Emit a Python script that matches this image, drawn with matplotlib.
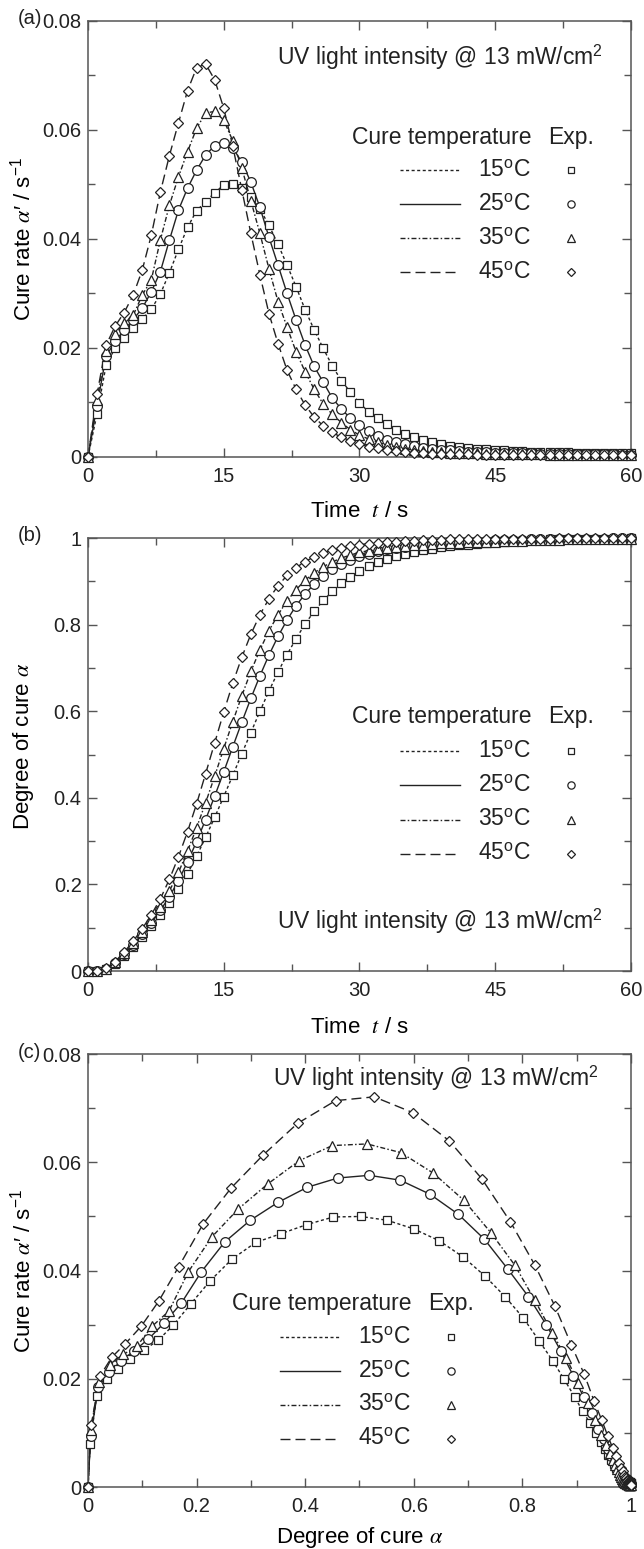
import matplotlib
matplotlib.use("Agg")
import matplotlib.pyplot as plt

plt.rcParams['font.family'] = ['Liberation Sans', 'DejaVu Sans']
plt.rcParams['mathtext.fontset'] = 'custom'
plt.rcParams['mathtext.rm'] = 'Liberation Sans'
plt.rcParams['mathtext.it'] = 'STIXGeneral:italic'
plt.rcParams['mathtext.bf'] = 'Liberation Sans:bold'
plt.rcParams['lines.scale_dashes'] = False

# ---- data (t = 0 ... 60 s, 1 s step) ----
time_s = [0, 1, 2, 3, 4, 5, 6, 7, 8, 9, 10,
          11, 12, 13, 14, 15, 16, 17, 18, 19, 20,
          21, 22, 23, 24, 25, 26, 27, 28, 29, 30,
          31, 32, 33, 34, 35, 36, 37, 38, 39, 40,
          41, 42, 43, 44, 45, 46, 47, 48, 49, 50,
          51, 52, 53, 54, 55, 56, 57, 58, 59, 60]

temps = ["15", "25", "35", "45"]

# (a) cure rate vs time
rate_15 = [0, .0079, .0168, .0200, .0218, .0236, .0253, .0271, .0299, .0338, .0381,
           .0421, .0452, .0468, .0485, .0499, .0500, .0493, .0477, .0455, .0425,
           .0390, .0352, .0312, .0270, .0233, .0199, .0167, .0140, .0119, .0099,
           .0083, .0071, .0060, .0050, .0043, .0036, .0031, .0027, .0024, .0021,
           .0019, .0017, .0015, .0014, .0013, .0012, .0011, .0011, .0010, .0010,
           .0009, .0009, .0009, .0008, .0008, .0008, .0008, .0007, .0007, .0007]
rate_25 = [0, .0094, .0185, .0212, .0233, .0252, .0273, .0303, .0340, .0398, .0453,
           .0493, .0526, .0554, .0571, .0576, .0567, .0541, .0504, .0458, .0403,
           .0352, .0300, .0251, .0205, .0166, .0137, .0108, .0088, .0071, .0058,
           .0048, .0039, .0032, .0027, .0023, .0020, .0017, .0015, .0013, .0012,
           .0011, .0010, .0009, .0009, .0008, .0008, .0007, .0007, .0007, .0006,
           .0006, .0006, .0006, .0005, .0005, .0005, .0005, .0005, .0004, .0004]
rate_35 = [0, .0105, .0195, .0225, .0245, .0260, .0297, .0325, .0398, .0462, .0514,
           .0560, .0603, .0631, .0634, .0618, .0580, .0530, .0470, .0410, .0345,
           .0285, .0238, .0193, .0156, .0124, .0097, .0078, .0063, .0050, .0040,
           .0033, .0027, .0022, .0018, .0015, .0013, .0011, .0010, .0009, .0008,
           .0008, .0007, .0007, .0006, .0006, .0006, .0005, .0005, .0005, .0005,
           .0004, .0004, .0004, .0004, .0004, .0004, .0004, .0004, .0004, .0004]
rate_45 = [0, .0115, .0205, .0240, .0265, .0297, .0343, .0407, .0486, .0553, .0613,
           .0672, .0714, .0721, .0692, .0640, .0570, .0490, .0410, .0334, .0263,
           .0208, .0159, .0124, .0095, .0073, .0057, .0045, .0036, .0030, .0023,
           .0019, .0016, .0013, .0011, .0009, .0008, .0007, .0006, .0006, .0005,
           .0005, .0005, .0004, .0004, .0004, .0004, .0004, .0003, .0003, .0003,
           .0003, .0003, .0003, .0003, .0003, .0003, .0003, .0003, .0003, .0003]

# (b) degree of cure vs time
alpha_b_15 = [0, .001, .004, .016, .035, .056, .078, .103, .129, .157, .189,
              .225, .265, .309, .355, .403, .452, .502, .551, .600, .647,
              .691, .731, .768, .802, .831, .856, .877, .896, .911, .924,
              .935, .944, .952, .958, .964, .968, .972, .976, .979, .981,
              .983, .985, .987, .989, .990, .992, .993, .994, .995, .996,
              .997, .997, .998, .998, .998, .999, .999, .999, .999, 1.0]
alpha_b_25 = [0, .001, .005, .019, .039, .061, .085, .111, .140, .172, .209,
              .252, .299, .350, .404, .460, .518, .575, .630, .682, .730,
              .773, .811, .844, .871, .894, .913, .928, .940, .950, .958,
              .964, .970, .974, .978, .980, .983, .985, .987, .989, .990,
              .991, .992, .993, .994, .995, .995, .996, .996, .997, .997,
              .998, .998, .998, .999, .999, .999, .999, 1.0, 1.0, 1.0]
alpha_b_35 = [0, .001, .005, .020, .041, .065, .090, .118, .149, .185, .228,
              .277, .331, .389, .450, .514, .576, .636, .692, .742, .786,
              .823, .855, .881, .903, .920, .934, .945, .954, .961, .967,
              .971, .975, .978, .980, .982, .984, .985, .986, .988, .988,
              .989, .990, .991, .992, .992, .993, .994, .994, .995, .995,
              .996, .996, .997, .997, .998, .998, .998, .999, .999, .999]
alpha_b_45 = [0, .001, .006, .022, .044, .069, .098, .130, .167, .212, .264,
              .322, .386, .456, .527, .598, .665, .725, .778, .823, .860,
              .890, .914, .932, .946, .957, .966, .972, .977, .981, .985,
              .987, .989, .991, .992, .993, .994, .995, .996, .996, .997,
              .997, .998, .998, .998, .998, .999, .999, .999, .999, .999,
              .999, 1.0, 1.0, 1.0, 1.0, 1.0, 1.0, 1.0, 1.0, 1.0]

# (c) degree of cure paired with the cure rate of panel (a)
alpha_c_15 = [0, .004, .016, .035, .056, .078, .103, .129, .157, .189, .225,
              .265, .309, .355, .403, .452, .502, .551, .600, .647, .691,
              .731, .768, .802, .831, .856, .877, .896, .911, .924, .935,
              .944, .952, .958, .964, .968, .972, .976, .979, .981, .983,
              .985, .987, .989, .990, .992, .993, .994, .995, .996, .997,
              .997, .998, .998, .998, .999, .999, .999, .999, 1.0, 1.0]
alpha_c_25 = [0, .005, .019, .039, .061, .085, .111, .140, .172, .209, .252,
              .299, .350, .404, .460, .518, .575, .630, .682, .730, .773,
              .811, .844, .871, .894, .913, .928, .940, .950, .958, .964,
              .970, .974, .978, .980, .983, .985, .987, .989, .990, .991,
              .992, .993, .994, .995, .995, .996, .996, .997, .997, .998,
              .998, .998, .999, .999, .999, .999, 1.0, 1.0, 1.0, 1.0]
alpha_c_35 = [0, .005, .020, .041, .065, .090, .118, .149, .185, .228, .277,
              .331, .389, .450, .514, .576, .636, .692, .742, .786, .823,
              .855, .881, .903, .920, .934, .945, .954, .961, .967, .971,
              .975, .978, .980, .982, .984, .985, .986, .988, .988, .989,
              .990, .991, .992, .992, .993, .994, .994, .995, .995, .996,
              .996, .997, .997, .998, .998, .998, .999, .999, .999, 1.0]
alpha_c_45 = [0, .006, .022, .044, .069, .098, .130, .167, .212, .264, .322,
              .386, .456, .527, .598, .665, .725, .778, .823, .860, .890,
              .914, .932, .946, .957, .966, .972, .977, .981, .985, .987,
              .989, .991, .992, .993, .994, .995, .996, .996, .997, .997,
              .998, .998, .998, .998, .999, .999, .999, .999, .999, .999,
              1.0, 1.0, 1.0, 1.0, 1.0, 1.0, 1.0, 1.0, 1.0, 1.0]

rates = [rate_15, rate_25, rate_35, rate_45]
alphas_b = [alpha_b_15, alpha_b_25, alpha_b_35, alpha_b_45]
alphas_c = [alpha_c_15, alpha_c_25, alpha_c_35, alpha_c_45]

# ---- styles ----
INK = "#222222"
EDGE = "#555555"
line_styles = [(0, (2.2, 1.8)), "-", (0, (3.6, 1.6, 1.1, 1.6)), (0, (7.2, 3.6))]
markers = ["s", "o", "^", "D"]
msizes = [6.0, 7.0, 7.0, 5.5]

TICK_FS = 14.5
TEXT_FS = 16.5
LABEL_FS = 16


def style_axes(ax):
    for sp in ax.spines.values():
        sp.set_color(EDGE)
        sp.set_linewidth(1.1)
    ax.tick_params(which="both", direction="in", top=True, right=True,
                   color=EDGE, width=1.0, labelcolor=INK, labelsize=TICK_FS)
    ax.tick_params(which="major", length=6.5)
    ax.tick_params(which="minor", length=5)
    ax.tick_params(axis="x", which="both", pad=7)
    ax.tick_params(axis="y", which="both", pad=4.5)


def draw_series(ax, xs, ys):
    for x, y, ls, mk, ms in zip(xs, ys, line_styles, markers, msizes):
        ax.plot(x, y, ls=ls, color=INK, lw=1.0, zorder=2)
        ax.plot(x, y, ls="none", marker=mk, ms=ms, mfc="white", mec=INK,
                mew=0.9, zorder=3, clip_on=False)


def draw_key(ax, x0, y_head, y_first, dy):
    ax.text(x0, y_head, "Cure temperature", transform=ax.transAxes,
            fontsize=TEXT_FS, va="center", ha="left", color=INK)
    ax.text(x0 + 0.361, y_head, "Exp.", transform=ax.transAxes,
            fontsize=TEXT_FS, va="center", ha="left", color=INK)
    for i, (tc, ls, mk, ms) in enumerate(zip(temps, line_styles, markers, msizes)):
        y = y_first - dy * i
        ax.plot([x0 + 0.089, x0 + 0.199], [y, y], transform=ax.transAxes,
                ls=ls, color=INK, lw=1.0)
        ax.text(x0 + 0.232, y, tc + r"$^{\rm o}$C", transform=ax.transAxes,
                fontsize=TEXT_FS, va="center", ha="left", color=INK)
        ax.plot([x0 + 0.404], [y], transform=ax.transAxes, ls="none",
                marker=mk, ms=ms * 0.75, mfc="white", mec=INK, mew=0.9)


fig = plt.figure(figsize=(6.44, 15.49), dpi=100)
ax_a = fig.add_axes([0.1366, 0.7050, 0.8432, 0.2815])
ax_b = fig.add_axes([0.1366, 0.3731, 0.8432, 0.2795])
ax_c = fig.add_axes([0.1366, 0.0400, 0.8432, 0.2795])

uv_text = "UV light intensity @ 13 mW/cm$^2$"
rate_label = "Cure rate $\\alpha$\u2032 / s$^{-1}$"
time_label = r"Time  $t$ / s"
deg_label = r"Degree of cure $\alpha$"

# (a)
ax = ax_a
draw_series(ax, [time_s] * 4, rates)
ax.set_xlim(0, 60)
ax.set_ylim(0, 0.08)
ax.set_xticks([0, 15, 30, 45, 60])
ax.set_xticks([7.5, 22.5, 37.5, 52.5], minor=True)
ax.set_yticks([0, 0.02, 0.04, 0.06, 0.08], ["0", "0.02", "0.04", "0.06", "0.08"])
ax.set_yticks([0.01, 0.03, 0.05, 0.07], minor=True)
ax.set_xlabel(time_label, fontsize=LABEL_FS)
ax.set_ylabel(rate_label, fontsize=LABEL_FS)
ax.text(0.348, 0.917, uv_text, transform=ax.transAxes, fontsize=TEXT_FS,
        va="center", ha="left", color=INK)
draw_key(ax, 0.486, 0.732, 0.658, 0.078)

# (b)
ax = ax_b
draw_series(ax, [time_s] * 4, alphas_b)
ax.set_xlim(0, 60)
ax.set_ylim(0, 1)
ax.set_xticks([0, 15, 30, 45, 60])
ax.set_xticks([7.5, 22.5, 37.5, 52.5], minor=True)
ax.set_yticks([0, 0.2, 0.4, 0.6, 0.8, 1.0], ["0", "0.2", "0.4", "0.6", "0.8", "1"])
ax.set_yticks([0.1, 0.3, 0.5, 0.7, 0.9], minor=True)
ax.set_xlabel(time_label, fontsize=LABEL_FS)
ax.set_ylabel(deg_label, fontsize=LABEL_FS)
ax.text(0.348, 0.115, uv_text, transform=ax.transAxes, fontsize=TEXT_FS,
        va="center", ha="left", color=INK)
draw_key(ax, 0.486, 0.587, 0.508, 0.079)

# (c)
ax = ax_c
draw_series(ax, alphas_c, rates)
ax.set_xlim(0, 1)
ax.set_ylim(0, 0.08)
ax.set_xticks([0, 0.2, 0.4, 0.6, 0.8, 1.0], ["0", "0.2", "0.4", "0.6", "0.8", "1"])
ax.set_xticks([0.1, 0.3, 0.5, 0.7, 0.9], minor=True)
ax.set_yticks([0, 0.02, 0.04, 0.06, 0.08], ["0", "0.02", "0.04", "0.06", "0.08"])
ax.set_yticks([0.01, 0.03, 0.05, 0.07], minor=True)
ax.set_xlabel(deg_label, fontsize=LABEL_FS)
ax.set_ylabel(rate_label, fontsize=LABEL_FS)
ax.text(0.341, 0.943, uv_text, transform=ax.transAxes, fontsize=TEXT_FS,
        va="center", ha="left", color=INK)
draw_key(ax, 0.265, 0.423, 0.346, 0.078)

for ax in (ax_a, ax_b, ax_c):
    style_axes(ax)
    ax.yaxis.set_label_coords(-0.096, 0.5)
ax_a.xaxis.set_label_coords(0.5, -0.10)
ax_b.xaxis.set_label_coords(0.5, -0.105)
ax_c.xaxis.set_label_coords(0.5, -0.087)
ax_b.yaxis.set_label_coords(-0.096, 0.52)

for lab, ypx in (("(a)", 18), ("(b)", 535), ("(c)", 1052)):
    fig.text(18 / 644, 1 - ypx / 1549, lab, fontsize=TICK_FS, va="center",
             ha="left", color=INK)

fig.savefig("out.png", dpi=100)
